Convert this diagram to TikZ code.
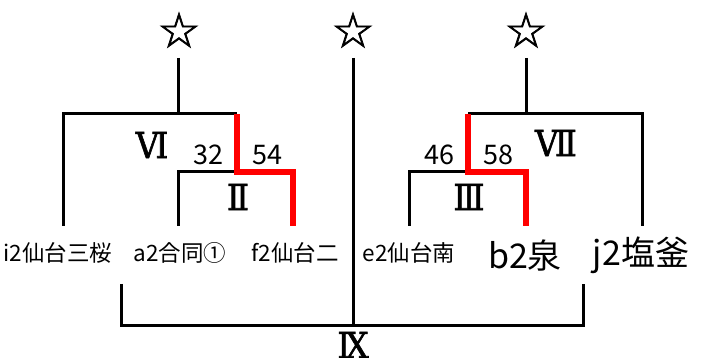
\documentclass[tikz,border=0pt]{standalone}
\usepackage{fontspec}
\newfontfamily\jpfont{Noto Sans CJK JP}
\newfontfamily\romfont{DejaVu Serif}[FakeBold=1.6, FakeStretch=0.9]
\newfontfamily\symfont{DejaVu Sans}[FakeBold=1.5]
\usetikzlibrary{calc}
\tikzset{
    bracket/.style={draw=black, line width=3pt},
    winner/.style={draw=red, line width=6.5pt},
    seed/.style={inner sep=0pt, font=\symfont\fontsize{48}{48}\selectfont},
    team/.style={inner sep=0pt, font=\jpfont\fontsize{22.5}{22.5}\selectfont},
    teambig/.style={inner sep=0pt, font=\jpfont\fontsize{34}{34}\selectfont},
    score/.style={inner sep=0pt, font=\jpfont\fontsize{27}{27}\selectfont},
    round/.style={inner sep=0pt, font=\romfont\fontsize{36}{36}\selectfont}
}

\begin{document}
\begin{tikzpicture}[x=1pt, y=-1pt]
\useasboundingbox (0,0) rectangle (716,358);

% Estrellas de cabeza de serie.
\node[seed] (s1) at (179,30) {☆};
\node[seed] (s2) at (353,30) {☆};
\node[seed] (s3) at (526,30) {☆};

% Equipos.
\node[team] (ti) at (58,253) {i2仙台三桜};
\node[team] (ta) at (180,253) {a2合同①};
\node[team] (tf) at (295,253) {f2仙台二};
\node[team] (te) at (409,253) {e2仙台南};
\node[teambig] (tb) at (525,255) {b2泉};
\node[teambig] (tj) at (641,255) {j2塩釜};

% Extremos de las líneas sobre cada equipo.
\coordinate (I) at (63,226);
\coordinate (A) at (178,226);
\coordinate (F) at (293,226);
\coordinate (E) at (409,226);
\coordinate (B) at (526,226);
\coordinate (J) at (642,226);

% Esquinas de cada llave.
\coordinate (P2) at (237,172);
\coordinate (P6) at (237,114);
\coordinate (P3) at (468,172);
\coordinate (P7) at (468,114);
\coordinate (T1) at (178,58);
\coordinate (T2) at (353,58);
\coordinate (T3) at (526,58);
\coordinate (L9) at (121,284);
\coordinate (R9) at (583,284);

% Llaves en negro.
\draw[bracket] (A) |- (P2);
\draw[bracket] (I) |- (P6);
\draw[bracket] (T1) -- (T1 |- P6);
\draw[bracket] (E) |- (P3);
\draw[bracket] (J) |- (P7);
\draw[bracket] (T3) -- (T3 |- P7);
\draw[bracket] (T2) -- (353,326);
\draw[bracket] (L9) |- (353,326) -| (R9);

% Caminos de los ganadores, encima de las llaves.
\draw[winner] (F) |- (P2) -- (P6);
\draw[winner] (B) |- (P3) -- (P7);

% Rondas y marcadores.
\node[round] (r6) at (152,145) {Ⅵ};
\node[round] (r2) at (238,197) {Ⅱ};
\node[round] (r7) at (556,143) {Ⅶ};
\node[round] (r3) at (469,197) {Ⅲ};
\node[round] (r9) at (353,345) {Ⅸ};
\node[score] (c32) at (208,155) {32};
\node[score] (c54) at (267,155) {54};
\node[score] (c46) at (439,155) {46};
\node[score] (c58) at (498,155) {58};

\end{tikzpicture}
\end{document}
